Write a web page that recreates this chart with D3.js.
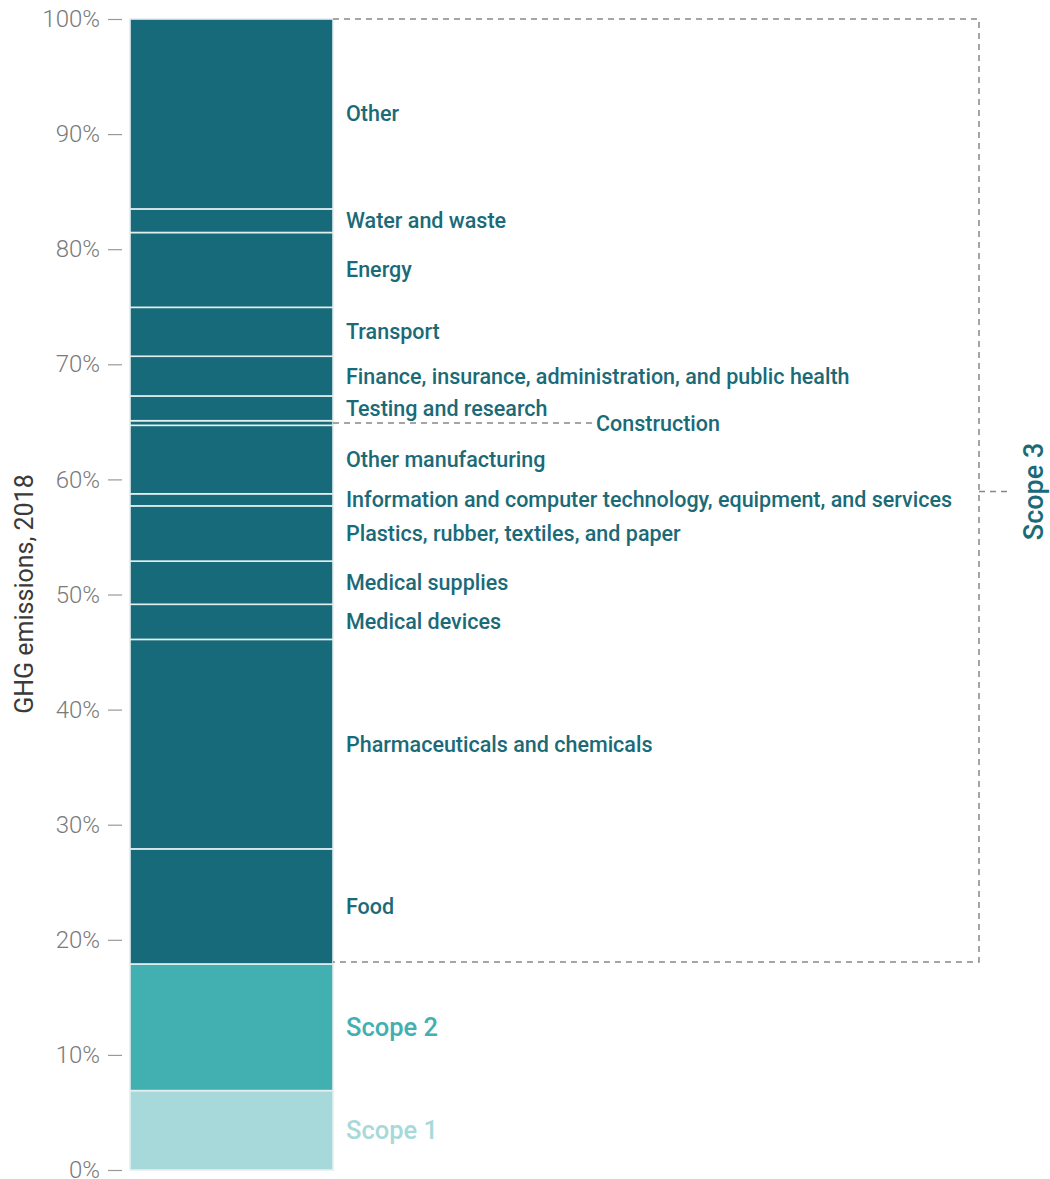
<!DOCTYPE html>
<html><head><meta charset="utf-8">
<script src="https://cdn.jsdelivr.net/npm/d3@7"></script>
<style>body{margin:0;background:#fff}svg{display:block}</style>
</head><body>
<svg id="c" width="1050" height="1179"></svg>
<script>
// data (bottom to top), % of total GHG emissions 2018
const categories = ["Scope 1","Scope 2","Food","Pharmaceuticals and chemicals","Medical devices","Medical supplies",
  "Plastics, rubber, textiles, and paper","Information and computer technology, equipment, and services",
  "Other manufacturing","Construction","Testing and research","Finance, insurance, administration, and public health",
  "Transport","Energy","Water and waste","Other"];
const values = [6.9,11.0,10.0,18.2,3.05,3.75,4.8,1.05,5.95,0.4,2.15,3.45,4.25,6.5,2.05,16.5];
const groups = ["scope1","scope2","scope3","scope3","scope3","scope3","scope3","scope3","scope3","scope3","scope3","scope3","scope3","scope3","scope3","scope3"];
const tickValues = [0,10,20,30,40,50,60,70,80,90,100];
const axisTitle = "GHG emissions, 2018";
const scope3Label = "Scope 3";

const fill = {scope1:"#a8d9da", scope2:"#42afb0", scope3:"#166a79"};
const labelColor = {scope1:"#a8d9da", scope2:"#42afb0", scope3:"#1b6a78"};
const FONT = "Roboto, 'Noto Sans', sans-serif";

const svg = d3.select("#c");
const y = d3.scaleLinear().domain([0,100]).range([1170,19]);
const barX0 = 130, barX1 = 333;

let cum = 0;
const segs = values.map((v,i)=>{const s={name:categories[i],v,g:groups[i],y0:cum,y1:cum+v};cum+=v;return s;});

// axis
const axis = d3.axisLeft(y).tickValues(tickValues).tickFormat(d=>d+"%").tickSize(14).tickPadding(8);
const ag = svg.append("g").attr("transform","translate(122,0)").call(axis);
ag.select(".domain").remove();
ag.selectAll(".tick line").attr("stroke","#999").attr("stroke-width",1.2);
ag.selectAll(".tick text").attr("fill","#7a7a7a").style("font-family",FONT).style("font-size","24px").style("font-weight","300");

svg.append("text").attr("transform","translate(33,594) rotate(-90)").attr("text-anchor","middle")
  .style("font-family",FONT).style("font-size","25px").attr("fill","#3a3a3a").text(axisTitle);

// bars
svg.append("g").selectAll("rect").data(segs).join("rect")
  .attr("x",barX0).attr("width",barX1-barX0)
  .attr("y",d=>y(d.y1)).attr("height",d=>y(d.y0)-y(d.y1))
  .attr("fill",d=>fill[d.g]).attr("stroke","#e4eeef").attr("stroke-width",1.6);

// labels
svg.append("g").selectAll("text").data(segs.filter(d=>d.name!=="Construction")).join("text")
  .attr("x",346).attr("y",d=>y((d.y0+d.y1)/2)).attr("dy","0.35em")
  .attr("fill",d=>labelColor[d.g])
  .style("font-family",FONT)
  .style("font-size",d=>d.g==="scope3"?"21.5px":"25.5px")
  .style("font-weight","500")
  .text(d=>d.name);

// construction callout
const con = segs.find(d=>d.name==="Construction");
const cy = y((con.y0+con.y1)/2);
svg.append("line").attr("x1",barX1).attr("x2",592).attr("y1",cy).attr("y2",cy)
  .attr("stroke","#888").attr("stroke-width",1.5).attr("stroke-dasharray","6,5");
svg.append("text").attr("x",596).attr("y",cy).attr("dy","0.35em").attr("fill",labelColor.scope3)
  .style("font-family",FONT).style("font-size","21.5px").style("font-weight","500").text(con.name);

// scope 3 bracket
const s3 = segs.filter(d=>d.g==="scope3");
const s3lo = d3.min(s3,d=>d.y0), s3hi = d3.max(s3,d=>d.y1);
const bx = 979;
const bTop = y(s3hi), bBot = y(s3lo)-2, bMid = y((s3lo+s3hi)/2);
svg.append("path").attr("d",`M${barX1},${bTop}H${bx}V${bBot}H${barX1}`)
  .attr("fill","none").attr("stroke","#888").attr("stroke-width",1.5).attr("stroke-dasharray","6,5");
svg.append("line").attr("x1",bx).attr("x2",1012).attr("y1",bMid).attr("y2",bMid)
  .attr("stroke","#888").attr("stroke-width",1.5).attr("stroke-dasharray","6,5");
svg.append("text").attr("transform",`translate(1043,${bMid}) rotate(-90)`).attr("text-anchor","middle")
  .attr("fill",labelColor.scope3).style("font-family",FONT).style("font-size","27px").style("font-weight","500").text(scope3Label);
</script>
</body></html>
